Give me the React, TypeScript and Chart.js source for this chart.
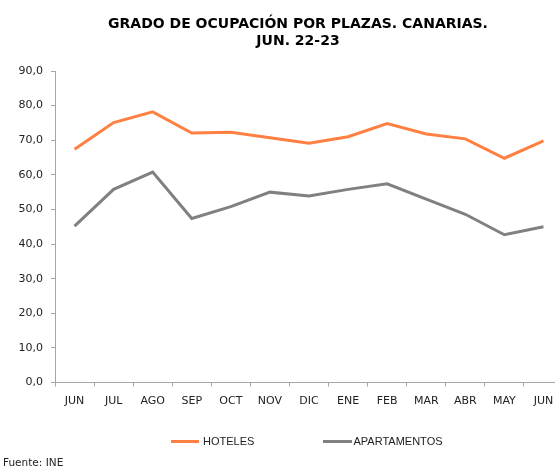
import React, { useEffect, useRef } from "react";
import { Chart, registerables } from "chart.js";

Chart.register(...registerables);

const categories = ["JUN", "JUL", "AGO", "SEP", "OCT", "NOV", "DIC", "ENE", "FEB", "MAR", "ABR", "MAY", "JUN"];
const hoteles = [67.4, 75.1, 78.2, 72.1, 72.3, 70.7, 69.1, 71.0, 74.8, 71.8, 70.4, 64.8, 69.8];
const apartamentos = [45.2, 55.8, 60.8, 47.4, 50.8, 55.0, 53.9, 55.8, 57.4, 53.0, 48.6, 42.7, 45.0];
const seriesNames = ["HOTELES", "APARTAMENTOS"];
const titleLines = ["GRADO DE OCUPACIÓN POR PLAZAS. CANARIAS.", "JUN. 22-23"];
const sourceNote = "Fuente: INE";

const ORANGE = "#FF8042";
const GREY = "#808080";
const AXIS = "#A6A6A6";

export default function App() {
  const canvasRef = useRef<HTMLCanvasElement | null>(null);

  useEffect(() => {
    const canvas = canvasRef.current;
    if (!canvas) return;
    const chart = new Chart(canvas, {
      type: "line",
      data: {
        labels: categories,
        datasets: [
          {
            label: seriesNames[0],
            data: hoteles,
            borderColor: ORANGE,
            backgroundColor: ORANGE,
            borderWidth: 3,
            pointRadius: 0,
            tension: 0,
          },
          {
            label: seriesNames[1],
            data: apartamentos,
            borderColor: GREY,
            backgroundColor: GREY,
            borderWidth: 3,
            pointRadius: 0,
            tension: 0,
          },
        ],
      },
      options: {
        responsive: false,
        animation: false,
        devicePixelRatio: 1,
        layout: { padding: { top: 71, right: 3, bottom: 0, left: 0 } },
        plugins: {
          legend: { display: false },
          title: { display: false },
          tooltip: { enabled: false },
        },
        scales: {
          x: {
            type: "category",
            offset: true,
            afterFit: (scale: any) => {
              scale.height = 87.5;
            },
            grid: {
              display: true,
              offset: true,
              drawOnChartArea: false,
              drawTicks: true,
              tickLength: 4,
              color: AXIS,
            },
            border: { display: true, color: AXIS, width: 1 },
            ticks: {
              color: "#222",
              font: { family: "'DejaVu Sans', Verdana, sans-serif", size: 11 },
              padding: 8,
              maxRotation: 0,
              autoSkip: false,
            },
          },
          y: {
            min: 0,
            max: 90,
            afterFit: (scale: any) => {
              scale.width = 55;
            },
            grid: {
              display: true,
              drawOnChartArea: false,
              drawTicks: true,
              tickLength: 4,
              color: AXIS,
            },
            border: { display: true, color: AXIS, width: 1 },
            ticks: {
              stepSize: 10,
              color: "#222",
              font: { family: "'DejaVu Sans', Verdana, sans-serif", size: 11 },
              padding: 8,
              callback: (v: any) => Number(v).toFixed(1).replace(".", ","),
            },
          },
        },
      },
    });
    return () => chart.destroy();
  }, []);

  const legendText: React.CSSProperties = {
    position: "absolute",
    top: 434.5,
    font: "11px 'Liberation Sans', Arial, sans-serif",
    lineHeight: "13px",
    color: "#222",
    whiteSpace: "nowrap",
  };

  return (
    <div
      style={{
        position: "fixed",
        left: 0,
        top: 0,
        width: 555,
        height: 470,
        overflow: "hidden",
        background: "#fff",
      }}
    >
      <canvas ref={canvasRef} width={566} height={470} style={{ position: "absolute", left: 0, top: 0 }} />
      <div
        style={{
          position: "absolute",
          left: 0,
          top: 15.3,
          width: 596,
          textAlign: "center",
          font: "bold 14px 'DejaVu Sans', Verdana, sans-serif",
          lineHeight: "17px",
          color: "#000",
        }}
      >
        <div>{titleLines[0]}</div>
        <div>{titleLines[1]}</div>
      </div>
      <div style={{ position: "absolute", left: 171, top: 439.5, width: 28, height: 3, background: ORANGE }} />
      <div style={{ ...legendText, left: 203 }}>{seriesNames[0]}</div>
      <div style={{ position: "absolute", left: 323, top: 439.5, width: 29, height: 3, background: GREY }} />
      <div style={{ ...legendText, left: 353.5 }}>{seriesNames[1]}</div>
      <div
        style={{
          position: "absolute",
          left: 3,
          top: 456.4,
          font: "10.5px 'DejaVu Sans', Verdana, sans-serif",
          lineHeight: "13px",
          color: "#222",
          whiteSpace: "nowrap",
        }}
      >
        {sourceNote}
      </div>
    </div>
  );
}
